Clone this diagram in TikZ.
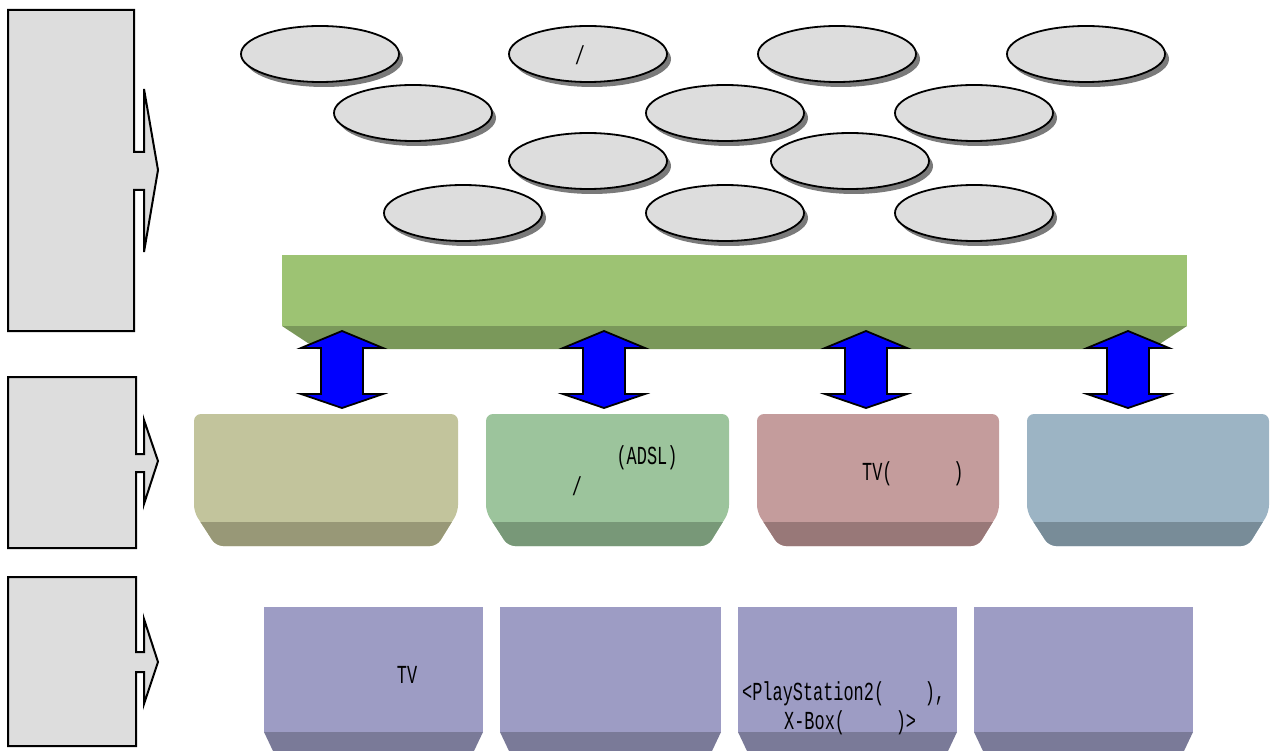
\documentclass[tikz,border=0pt]{standalone}
\usepackage{fontspec}
\newfontfamily\cf[FakeStretch=0.65]{Liberation Mono}
\usetikzlibrary{shapes.geometric,shadows,calc}
\definecolor{panelgray}{HTML}{DDDDDD}
\definecolor{shadowgray}{HTML}{7A7A7A}
\definecolor{barlight}{HTML}{9DC373}
\definecolor{bardark}{HTML}{7A985A}
\definecolor{boxAl}{HTML}{C2C49C}
\definecolor{boxAd}{HTML}{989877}
\definecolor{boxBl}{HTML}{9CC49C}
\definecolor{boxBd}{HTML}{789878}
\definecolor{boxCl}{HTML}{C49C9C}
\definecolor{boxCd}{HTML}{987878}
\definecolor{boxDl}{HTML}{9CB4C4}
\definecolor{boxDd}{HTML}{788C98}
\definecolor{purpl}{HTML}{9D9CC4}
\definecolor{purpd}{HTML}{7A7A98}
\newcommand{\softbox}[4]{%
  \fill[#3, rounded corners=7pt] (#1,414) -- (#2,414) -- (#2,512) -- ({#2-21},546) -- ({#1+22},546) -- (#1,512) -- cycle;
  \begin{scope}
    \clip (#1,522) rectangle (#2,560);
    \fill[#4, rounded corners=7pt] (#1,414) -- (#2,414) -- (#2,512) -- ({#2-21},546) -- ({#1+22},546) -- (#1,512) -- cycle;
  \end{scope}}
\newcommand{\purpbox}[2]{%
  \fill[purpl] (#1,607) rectangle (#2,732);
  \fill[purpd] (#1,732) -- (#2,732) -- ({#2-9},751) -- ({#1+9},751) -- cycle;}
\begin{document}
\begin{tikzpicture}[x=1pt,y=-1pt,
  panel/.style={fill=panelgray, draw=black, line width=2pt, line join=miter},
  oval/.style={ellipse, fill=panelgray, draw=black, line width=1.8pt,
    minimum width=158pt, minimum height=56pt, inner sep=0pt,
    drop shadow={shadow xshift=4pt, shadow yshift=-5pt, fill=shadowgray, opacity=1}},
  txt/.style={font=\cf\fontsize{26pt}{30pt}\selectfont, inner sep=0pt, text height=17pt, text depth=0pt},
  dblarrow/.pic={\draw[fill=blue, line width=1.8pt, line join=miter]
    (0,-38.5) -- (41,-21.5) -- (21,-21.5) -- (21,24.5) -- (41,24.5) -- (0,38.5)
    -- (-41,24.5) -- (-21,24.5) -- (-21,-21.5) -- (-41,-21.5) -- cycle;}
]
\useasboundingbox (0,0) rectangle (1279,751);
\fill[white] (0,0) rectangle (1279,751);

% left panels
\draw[panel] (8,10) -- (134,10) -- (134,152) -- (144,152) -- (144,89) -- (158,170) -- (144,252) -- (144,190) -- (134,190) -- (134,331) -- (8,331) -- cycle;
\draw[panel] (8,377) -- (136,377) -- (136,454) -- (144,454) -- (144,420) -- (158,461) -- (144,504) -- (144,472) -- (136,472) -- (136,548) -- (8,548) -- cycle;
\draw[panel] (8,577) -- (136,577) -- (136,652) -- (144,652) -- (144,619) -- (158,662) -- (144,704) -- (144,672) -- (136,672) -- (136,746) -- (8,746) -- cycle;

% ellipses
\node[oval] (e1) at (320,54) {};
\node[oval] (e2) at (588,54) {};
\node[oval] (e3) at (837,54) {};
\node[oval] (e4) at (1086,54) {};
\node[oval] (e5) at (413,113) {};
\node[oval] (e6) at (725,113) {};
\node[oval] (e7) at (974,113) {};
\node[oval] (e8) at (588,161) {};
\node[oval] (e9) at (850,161) {};
\node[oval] (e10) at (463,213) {};
\node[oval] (e11) at (725,213) {};
\node[oval] (e12) at (974,213) {};
\node[txt] (e2t) at (580,56) {/};

% green bar
\fill[barlight] (282,255) rectangle (1187,326);
\fill[bardark] (282,326) -- (1187,326) -- (1152,349) -- (317,349) -- cycle;
\coordinate (bar) at (734.5,290);

% middle boxes
\softbox{194}{458}{boxAl}{boxAd}
\softbox{486}{729}{boxBl}{boxBd}
\softbox{757}{999}{boxCl}{boxCd}
\softbox{1027}{1269}{boxDl}{boxDd}

% double arrows between bar and boxes
\coordinate (a1) at (342,369.5);
\coordinate (a2) at (604,369.5);
\coordinate (a3) at (866,369.5);
\coordinate (a4) at (1128,369.5);
\pic at (a1) {dblarrow};
\pic at (a2) {dblarrow};
\pic at (a3) {dblarrow};
\pic at (a4) {dblarrow};

\node[txt] (adsl) at (647,456) {(ADSL)};
\node[txt] (slash2) at (577,487) {/};
\node[txt, anchor=west] (tv3) at (862,472) {TV(\hspace{60.8pt})};

% bottom boxes
\purpbox{264}{483}
\purpbox{500}{721}
\purpbox{738}{957}
\purpbox{974}{1193}

\node[txt] (tv) at (407,675) {TV};
\node[txt, anchor=west] (ps) at (742,692) {<PlayStation2(\hspace{40.6pt}),};
\node[txt, anchor=west] (xbox) at (784,721) {X-Box(\hspace{50.7pt})>};
\end{tikzpicture}
\end{document}
